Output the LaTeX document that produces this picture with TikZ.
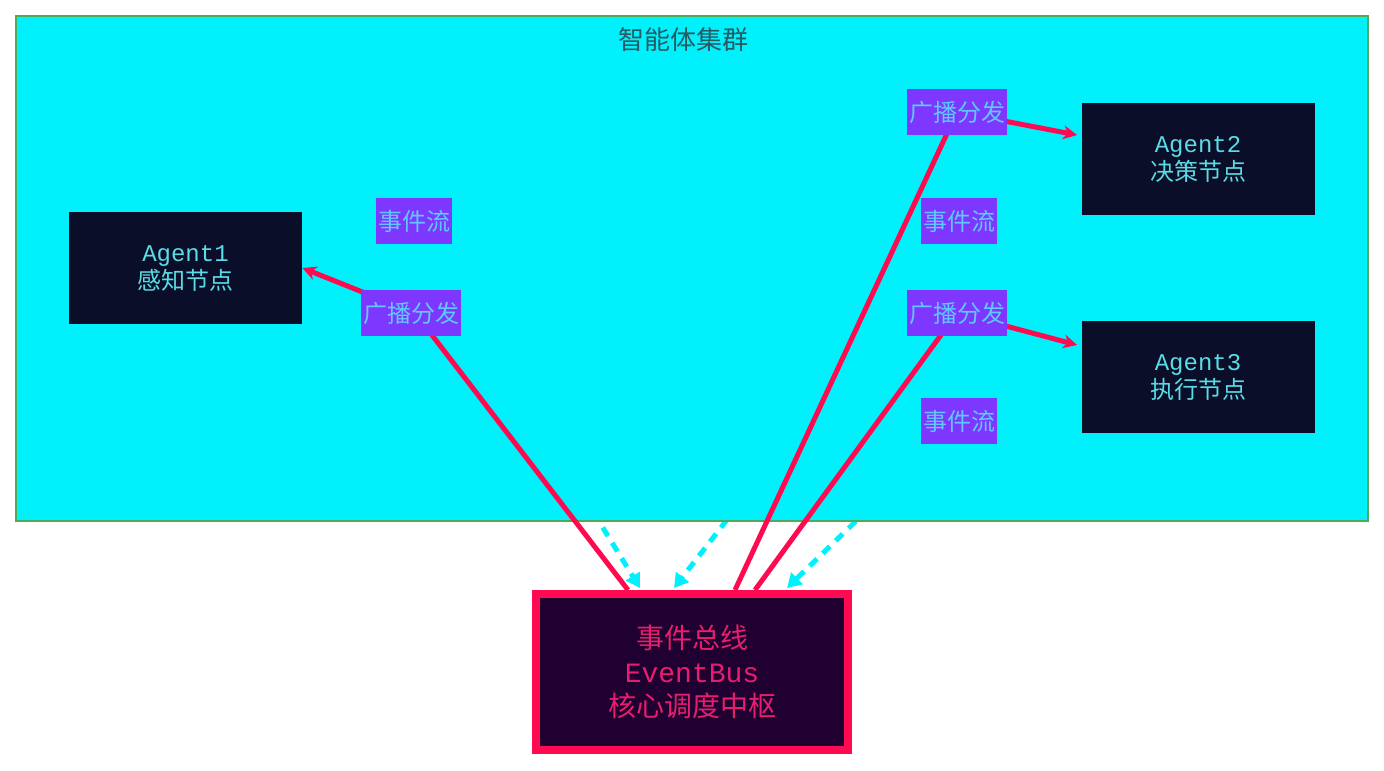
\documentclass[tikz,border=0pt]{standalone}
\usepackage{fontspec}
\setmainfont{Noto Sans CJK SC}
\setmonofont{Liberation Mono}
\usetikzlibrary{arrows.meta,calc}
\definecolor{clu_cyan}{RGB}{0,240,252}
\definecolor{clu_edge}{RGB}{80,170,90}
\definecolor{agt_navy}{RGB}{10,14,40}
\definecolor{agt_text}{RGB}{90,220,230}
\definecolor{lbl_purple}{RGB}{125,55,255}
\definecolor{lbl_text}{RGB}{95,200,255}
\definecolor{bus_red}{RGB}{255,10,80}
\definecolor{bus_fill}{RGB}{32,0,48}
\definecolor{bus_text}{RGB}{230,30,110}
\definecolor{ttl_grey}{RGB}{40,90,100}
\pgfdeclarelayer{bg}
\pgfdeclarelayer{mid}
\pgfsetlayers{bg,mid,main}
\tikzset{
  agent/.style={fill=agt_navy, text=agt_text, minimum width=116.5pt, minimum height=56pt, align=center, font=\fontsize{12}{14}\selectfont},
  tag/.style={fill=lbl_purple, text=lbl_text, inner sep=1pt, minimum height=23pt, font=\fontsize{12}{14}\selectfont},
  bcast/.style={bus_red, line width=2.5pt, -{Stealth[length=7pt,width=7pt]}},
  flow/.style={clu_cyan, line width=2.5pt, dash pattern=on 5pt off 4pt, -{Triangle[length=7pt,width=8pt]}}
}
\begin{document}
\begin{tikzpicture}[x=0.5pt,y=-0.5pt]
    \useasboundingbox (0,0) rectangle (1384,770);
    % cluster area
    \begin{pgfonlayer}{mid}
      \draw[clu_edge, fill=clu_cyan, line width=0.8pt] (16,16) rectangle (1368,521);
    \end{pgfonlayer}
    \node[text=ttl_grey, font=\fontsize{13}{15}\selectfont] (title) at (683,40) {智能体集群};

    % agents and bus
    \node[agent] (a1) at (185.5,268) {\texttt{Agent1}\\感知节点};
    \node[agent] (a2) at (1198,159) {\texttt{Agent2}\\决策节点};
    \node[agent] (a3) at (1198,377) {\texttt{Agent3}\\执行节点};
    \node[draw=bus_red, line width=4pt, fill=bus_fill, text=bus_text, minimum width=156pt, minimum height=78pt,
      align=center, font=\fontsize{14}{17}\selectfont] (bus) at (692,672) {事件总线\\\texttt{EventBus}\\核心调度中枢};

    % event flow, visible only outside the cluster
    \coordinate (f1) at (414,221);
    \coordinate (f2) at (959,221);
    \coordinate (f3) at (959,421);
    \begin{pgfonlayer}{bg}
      \draw[flow] (f1) -- ($(bus.north)+(-52,-2)$);
      \draw[flow] (f2) -- ($(bus.north)+(-18,-2)$);
      \draw[flow] (f3) -- ($(bus.north)+(95,-2)$);
    \end{pgfonlayer}

    % broadcast lines
    \coordinate (b1) at (415,313);
    \coordinate (b2) at (957,112);
    \coordinate (b3) at (957,313);
    \draw[bcast] ($(bus.north)+(-64,0)$) -- (b1) -- (a1.east);
    \draw[bcast] ($(bus.north)+(43,0)$) -- (b2) -- ($(a2.west)+(-4,-24)$);
    \draw[bcast] ($(bus.north)+(63,0)$) -- (b3) -- ($(a3.west)+(-4,-32)$);

    % labels
    \node[tag] (t1) at (f1) {事件流};
    \node[tag] (t2) at (f2) {事件流};
    \node[tag] (t3) at (f3) {事件流};
    \node[tag] (u1) at (411,313) {广播分发};
    \node[tag] (u2) at (b2) {广播分发};
    \node[tag] (u3) at (b3) {广播分发};
\end{tikzpicture}
\end{document}
